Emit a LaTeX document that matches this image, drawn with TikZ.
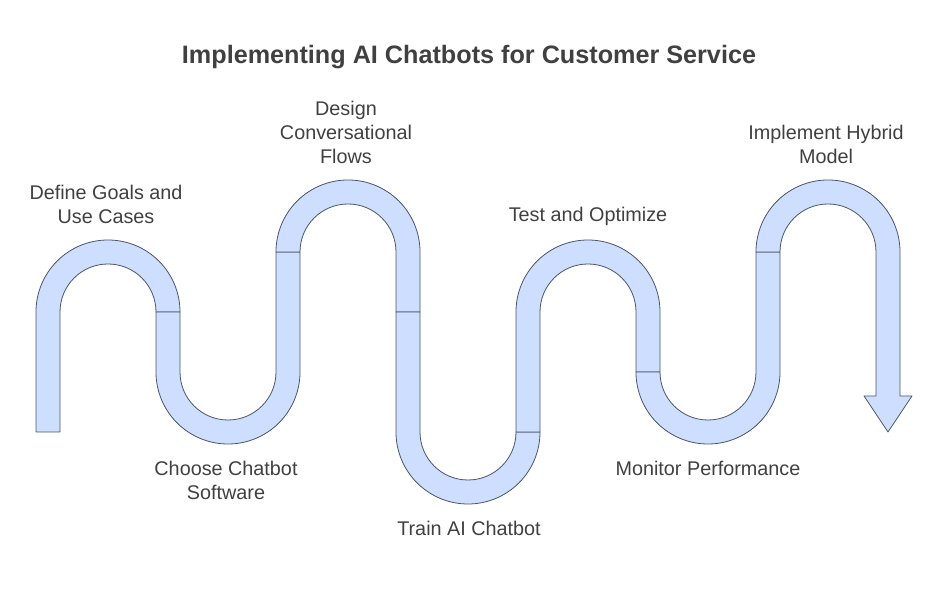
\documentclass[tikz,border=0pt]{standalone}
\usepackage{fontspec}
\setmainfont{Liberation Sans}
\usepackage{xcolor}
\definecolor{tubeFill}{RGB}{205, 222, 255}
\definecolor{tubeLine}{RGB}{75, 85, 105}
\definecolor{textGray}{RGB}{64, 64, 64}
\usepackage{tikz}
\usetikzlibrary{positioning}
\tikzset{
    tube/.style={draw=tubeLine, fill=tubeFill, line width=0.8pt, line join=round},
    steplabel/.style={align=center, text=textGray, font=\fontsize{19.8}{24}\selectfont},
}

\begin{document}
\begin{tikzpicture}[x=1pt, y=1pt]
    \useasboundingbox (0,0) rectangle (937,589);
    % snake segments, left to right
    \draw[tube] (36,157) -- (36,277) arc[start angle=180, end angle=0, radius=72]
        -- (156,277) arc[start angle=0, end angle=180, radius=48] -- (60,157) -- cycle;
    \draw[tube] (156,277) -- (156,217) arc[start angle=180, end angle=360, radius=72]
        -- (300,337) -- (276,337) -- (276,217) arc[start angle=0, end angle=-180, radius=48] -- (180,277) -- cycle;
    \draw[tube] (276,337) arc[start angle=180, end angle=0, radius=72]
        -- (420,277) -- (396,277) -- (396,337) arc[start angle=0, end angle=180, radius=48] -- cycle;
    \draw[tube] (396,277) -- (396,157) arc[start angle=180, end angle=360, radius=72]
        -- (516,157) arc[start angle=0, end angle=-180, radius=48] -- (420,277) -- cycle;
    \draw[tube] (516,157) -- (516,277) arc[start angle=180, end angle=0, radius=72]
        -- (660,217) -- (636,217) -- (636,277) arc[start angle=0, end angle=180, radius=48] -- (540,157) -- cycle;
    \draw[tube] (636,217) arc[start angle=180, end angle=360, radius=72]
        -- (780,337) -- (756,337) -- (756,217) arc[start angle=0, end angle=-180, radius=48] -- cycle;
    \draw[tube] (756,337) arc[start angle=180, end angle=0, radius=72]
        -- (900,193) -- (912,193) -- (888,157) -- (864,193) -- (876,193)
        -- (876,337) arc[start angle=0, end angle=180, radius=48] -- cycle;
    % labels
    \node[font=\fontsize{25.2}{30}\selectfont\bfseries, text=textGray] (title) at (469,532)
        {Implementing AI Chatbots for Customer Service};
    \node[steplabel] (goals) at (106,385) {Define Goals and\\Use Cases};
    \node[steplabel] (software) at (226,109) {Choose Chatbot\\Software};
    \node[steplabel] (flows) at (346,457) {Design\\Conversational\\Flows};
    \node[steplabel] (train) at (469,61) {Train AI Chatbot};
    \node[steplabel] (optimize) at (588,373) {Test and Optimize};
    \node[steplabel] (monitor) at (708,121) {Monitor Performance};
    \node[steplabel] (hybrid) at (826,445) {Implement Hybrid\\Model};
\end{tikzpicture}
\end{document}
